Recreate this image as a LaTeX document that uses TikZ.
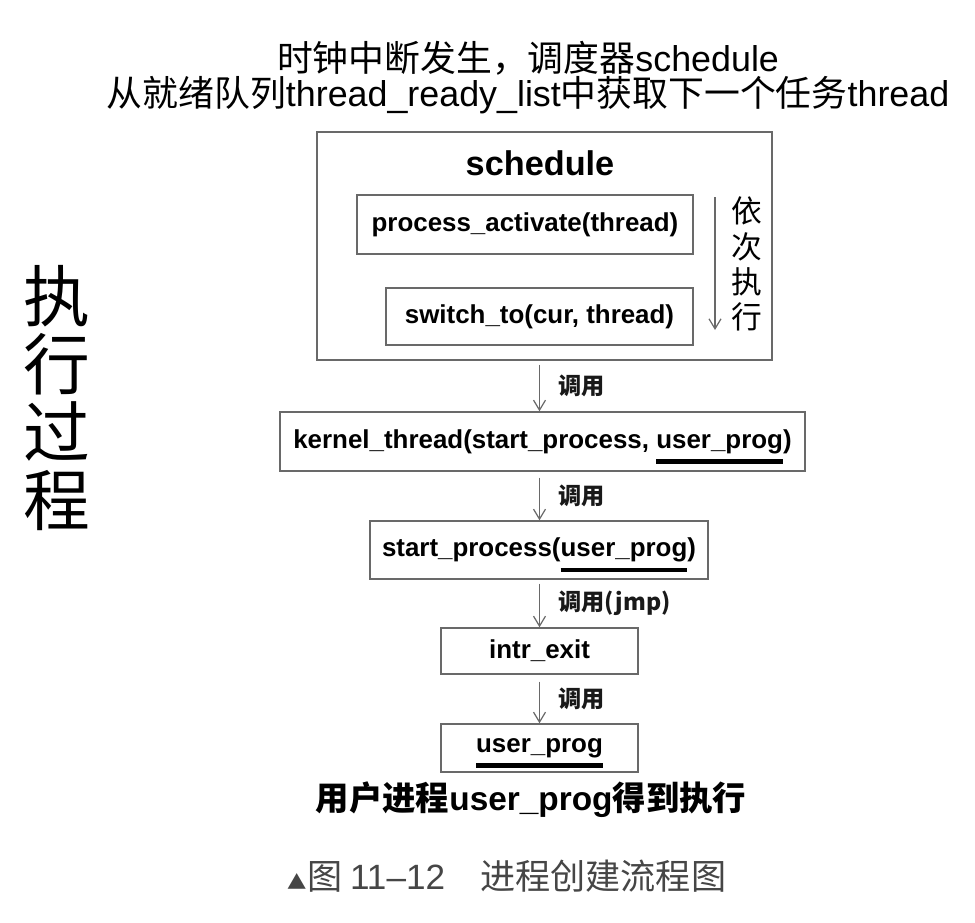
\documentclass[tikz,border=0pt]{standalone}
\usepackage{fontspec}
\setmainfont{Liberation Sans}
\newfontfamily\cjk{Noto Sans CJK SC}
\usetikzlibrary{arrows.meta, positioning, calc}
\definecolor{linegray}{RGB}{105,105,105}
\definecolor{capgray}{RGB}{70,70,70}
% thick bar under a word
\newcommand{\thickul}[1]{\setbox0=\hbox{#1}\leavevmode
  \rlap{\smash{\raisebox{-9pt}{\rule{\wd0}{2.8pt}}}}\box0}
\tikzset{
  box/.style   = {draw=linegray, line width=0.8pt, inner sep=0pt,
                  font=\fontsize{14.75}{16}\selectfont\bfseries},
  arr/.style   = {-{Straight Barb[length=2mm, width=2.4mm]}, draw=linegray,
                  line width=0.7pt},
  calllbl/.style = {font=\cjk\fontsize{13.2}{14}\selectfont\bfseries, inner sep=0pt,
                  text=black!90},
}
\begin{document}
\begin{tikzpicture}[x=0.02cm, y=-0.02cm]
  \useasboundingbox (0,0) rectangle (975,923);
  % heading
  \node[align=center, font=\fontsize{20.4}{20}\selectfont] (head) at (528,78)
    {{\cjk 时钟中断发生，调度器}schedule\\
     {\cjk 从就绪队列}thread\_ready\_list{\cjk 中获取下一个任务}thread};
  \node[align=center, font=\cjk\fontsize{38}{38.7}\selectfont] (side) at (57,398)
    {执\\行\\过\\程};
  % schedule block
  \node[draw=linegray, line width=0.8pt, minimum width=9.1cm, minimum height=4.56cm]
    (sched) at (544.5,246) {};
  \node[font=\fontsize{19.5}{21}\selectfont\bfseries] (schedtitle) at (540,163) {schedule};
  \node[box, minimum width=6.72cm, minimum height=1.18cm] (pa) at (525,224.5)
    {process\_activate(thread)};
  \node[box, minimum width=6.14cm, minimum height=1.14cm] (sw) at (539.5,316.5)
    {switch\_to(cur, thread)};
  \coordinate (seqtop) at (715,197);
  \coordinate (seqbot) at (715,330);
  \draw[arr] (seqtop) -- (seqbot);
  \node[align=center, font=\cjk\fontsize{17.5}{20}\selectfont] (seqlbl) at (747,264)
    {依\\次\\执\\行};
  % call chain
  \node[box, minimum width=10.5cm, minimum height=1.18cm] (kern) at (542.5,441.5)
    {kernel\_thread(start\_process, \thickul{user\_prog})};
  \node[box, minimum width=6.76cm, minimum height=1.16cm] (start) at (539,550)
    {start\_process(\thickul{user\_prog})};
  \node[box, minimum width=3.94cm, minimum height=0.92cm] (intr) at (539.5,651)
    {intr\_exit};
  \node[box, minimum width=3.94cm, minimum height=0.96cm] (user) at (539.5,748)
    {\thickul{user\_prog}};
  \draw[arr, shorten <=0.08cm] (sched.south -| intr) -- (kern.north -| intr)
    node[midway, right=0.36cm, calllbl] {调用};
  \draw[arr, shorten <=0.12cm] (kern.south -| intr) -- (start.north -| intr)
    node[midway, right=0.36cm, calllbl] {调用};
  \draw[arr, shorten <=0.08cm] (start.south -| intr) -- (intr.north)
    node[midway, right=0.36cm, calllbl] {调用(jmp)};
  \draw[arr, shorten <=0.14cm] (intr) -- (user)
    node[midway, right=0.36cm, calllbl] {调用};
  \node[font=\fontsize{19}{21}\selectfont\bfseries] (result) at (531,800)
    {{\cjk 用户进程}user\_prog{\cjk 得到执行}};
  \node[font=\cjk\fontsize{20}{22}\selectfont, text=capgray] (caption) at (507,876)
    {{\fontsize{11}{12}\selectfont ▲}图 {\rmfamily 11–12}\hspace{1em}进程创建流程图};
\end{tikzpicture}
\end{document}
